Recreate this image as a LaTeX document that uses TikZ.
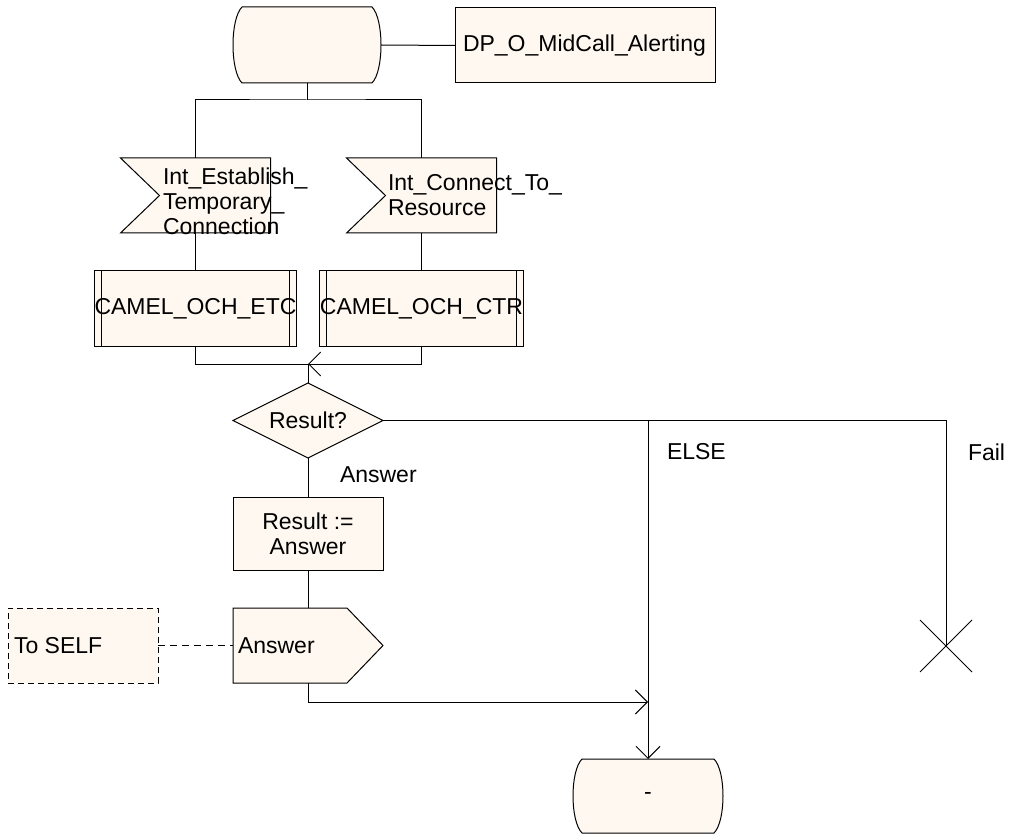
\documentclass[tikz,border=0pt]{standalone}
\usepackage{fontspec}
\setmainfont{Liberation Sans}
\usetikzlibrary{arrows.meta,calc,shapes.geometric}
\definecolor{sdlfill}{RGB}{255,248,240}
\begin{document}
\begin{tikzpicture}[x=1pt,y=-1pt,
  every node/.style={font=\fontsize{23}{25}\selectfont, inner sep=0pt, outer sep=0pt},
  frame/.style={draw=black, line width=1pt, fill=sdlfill},
  area/.style={rectangle, minimum width=150pt, minimum height=75pt},
  conn/.style={draw=black, line width=1pt},
  tip/.style={-{Straight Barb[length=12pt,width=24pt,line width=1pt]}},
  lbl/.style={anchor=west, align=left}
]
\useasboundingbox (0,0) rectangle (1009,834);

% anchor areas for custom shapes
\node[area, minimum width=148pt, minimum height=76pt] (st) at (307,45) {};
\node[area] (sig1) at (195.5,195.5) {};
\node[area] (sig2) at (421.5,195.5) {};
\node[area] (out) at (308,645.5) {};
\node[area, minimum height=74pt] (end) at (648,796) {};
\node[rectangle, minimum size=52pt] (xf) at (946,646) {};

% custom outlines
\draw[frame] ($(st.north west)+(9,0)$) -- ($(st.north east)+(-9,0)$)
  .. controls ($(st.north east)+(3,12)$) and ($(st.south east)+(3,-12)$) .. ($(st.south east)+(-9,0)$)
  -- ($(st.south west)+(9,0)$)
  .. controls ($(st.south west)+(-3,-12)$) and ($(st.north west)+(-3,12)$) .. cycle;
\draw[frame] ($(end.north west)+(9,0)$) -- ($(end.north east)+(-9,0)$)
  .. controls ($(end.north east)+(3,12)$) and ($(end.south east)+(3,-12)$) .. ($(end.south east)+(-9,0)$)
  -- ($(end.south west)+(9,0)$)
  .. controls ($(end.south west)+(-3,-12)$) and ($(end.north west)+(-3,12)$) .. cycle;
\draw[frame] (sig1.north west) -- (sig1.north east) -- (sig1.south east) -- (sig1.south west) -- ($(sig1.west)+(39,0)$) -- cycle;
\draw[frame] (sig2.north west) -- (sig2.north east) -- (sig2.south east) -- (sig2.south west) -- ($(sig2.west)+(39,0)$) -- cycle;
\draw[frame] (out.north west) -- ($(out.north east)+(-36,0)$) -- (out.east) -- ($(out.south east)+(-36,0)$) -- (out.south west) -- cycle;
\draw[conn] (xf.north west) -- (xf.south east) (xf.north east) -- (xf.south west);

% boxes with text
\node[area, frame, minimum width=260pt, text width=244pt, inner xsep=8pt, align=left] (dp) at (585,45.5) {DP\_O\_MidCall\_Alerting};
\node[area, frame] (pr1) at (195.5,308.5) {CAMEL\_OCH\_ETC};
\node[area, frame] (pr2) at (421.5,308.5) {CAMEL\_OCH\_CTR};
\draw[conn] ($(pr1.north west)+(7,0)$) -- ($(pr1.south west)+(7,0)$) ($(pr1.north east)+(-7,0)$) -- ($(pr1.south east)+(-7,0)$);
\draw[conn] ($(pr2.north west)+(7,0)$) -- ($(pr2.south west)+(7,0)$) ($(pr2.north east)+(-7,0)$) -- ($(pr2.south east)+(-7,0)$);
\node[diamond, aspect=2, frame, minimum width=150pt, minimum height=75pt] (dia) at (308,420.5) {Result?};
\node[area, frame, align=center, minimum height=73pt] (task) at (308,533.5) {Result :=\\Answer};
\node[area, draw=black, fill=sdlfill, line width=1pt, dash pattern=on 6pt off 4pt] (self) at (83,645.5) {};

% texts of custom shapes
\node[lbl] (sig1t) at (163,201) {Int\_Establish\_\\Temporary\_\\Connection};
\node[lbl] (sig2t) at (388,195.5) {Int\_Connect\_To\_\\Resource};
\node[lbl] (outt) at (238,646) {Answer};
\node[lbl] (selft) at (14,646) {To SELF};
\node (endt) at (end.center) {-};

% labels
\node[lbl] (lans) at (340,475) {Answer};
\node[lbl] (lelse) at (667,452) {ELSE};
\node[lbl] (lfail) at (968,452) {Fail};

% connectors
\coordinate (j1) at (307,100);
\coordinate (j2) at (308,364);
\coordinate (je) at (648,420.5);
\coordinate (jf) at (946,420.5);
\coordinate (j3) at (648,702);
\draw[conn] (st.east) -- (dp.west);
\draw[conn] (st.south) -- (j1);
\draw[conn] (sig1.north) |- (j1) -| (sig2.north);
\draw[conn] (sig1.south) -- (pr1.north);
\draw[conn] (sig2.south) -- (pr2.north);
\draw[conn] (pr1.south) |- (j2);
\draw[conn,tip] (pr2.south) |- (j2);
\draw[conn] (j2) -- (dia.north);
\draw[conn] (dia.east) -- (jf) -- (xf.center);
\draw[conn,tip] (je) -- (end.north);
\draw[conn] (dia.south) -- (task.north);
\draw[conn] (task.south) -- (out.north);
\draw[conn, dash pattern=on 7pt off 5pt] (self.east) -- (out.west);
\draw[conn,tip] (out.south) |- (j3);
\end{tikzpicture}
\end{document}
